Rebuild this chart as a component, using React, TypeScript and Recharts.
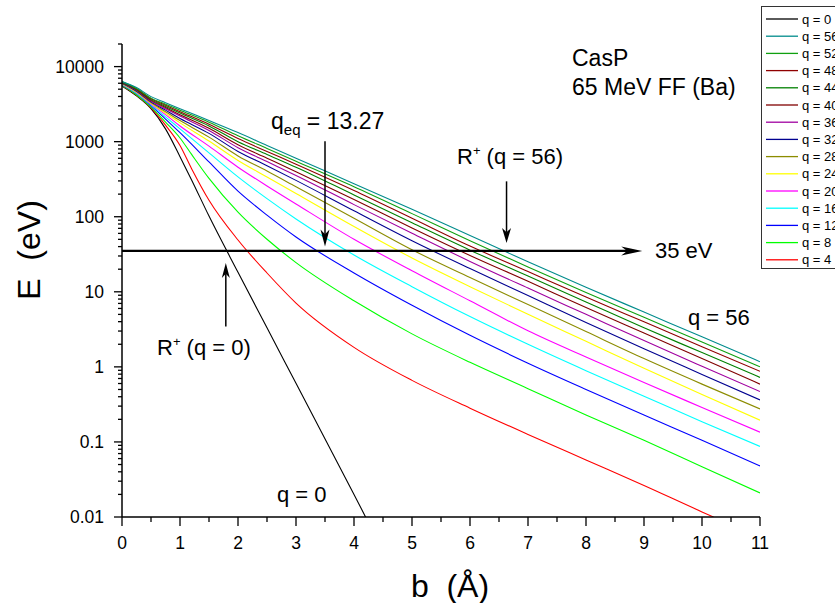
import React from 'react';
import { LineChart, Line, XAxis, YAxis, ReferenceLine, Legend } from 'recharts';

// impact parameter b (Å)
const bValues = [0, 0.25, 0.5, 0.75, 1, 1.2, 1.5, 2, 2.5, 3, 4, 4.2, 5, 6, 7, 8, 9, 10, 10.2, 11];

// energy transfer E (eV) for each charge state q
const E_q0 = [5500, 4070, 2750, 1480, 631, 309, 102, 18.2, 3.31, 0.603, 0.02, 0.01, null, null, null, null, null, null, null, null];
const E_q4 = [5560, 4170, 2820, 1660, 891, 437, 166, 49.0, 17.8, 7.08, 1.82, null, 0.661, 0.282, 0.126, 0.0575, 0.0263, 0.0117, 0.01, null];
const E_q8 = [5620, 4220, 2880, 1820, 1120, 676, 324, 115, 50.1, 24.5, 7.59, null, 2.75, 1.15, 0.513, 0.229, 0.105, 0.0468, null, 0.0209];
const E_q12 = [5690, 4370, 3020, 2000, 1320, null, 537, 219, 105, 53.7, 17.8, null, 6.61, 2.63, 1.12, 0.501, 0.229, 0.105, null, 0.0479];
const E_q16 = [5750, 4420, 3090, 2140, 1480, null, 708, 339, 174, 93.3, 30.9, null, 11.7, 4.68, 2.0, 0.891, 0.407, 0.186, null, 0.0871];
const E_q20 = [5820, 4500, 3160, 2290, 1620, null, 871, 457, 257, 148, 50.1, null, 19.1, 7.59, 3.02, 1.35, 0.617, 0.288, null, 0.135];
const E_q24 = [5890, 4570, 3240, 2400, 1780, null, 1020, 562, 339, 204, 74.1, null, 28.2, 11.7, 5.01, 2.19, 0.955, 0.427, null, 0.195];
const E_q28 = [5960, 4660, 3310, 2510, 1910, null, 1150, 646, 407, 251, 95.5, null, 36.3, 15.5, 6.76, 2.95, 1.29, 0.589, null, 0.275];
const E_q32 = [6030, 4730, 3390, 2630, 2040, null, 1290, 741, 479, 305, 120, null, 47.9, 20.4, 8.91, 3.89, 1.74, 0.794, null, 0.363];
const E_q36 = [6100, 4820, 3470, 2750, 2190, null, 1410, 832, 543, 355, 145, null, 60.3, 25.4, 11.2, 5.01, 2.24, 1.02, null, 0.468];
const E_q40 = [6170, 4900, 3550, 2850, 2290, null, 1510, 912, 603, 398, 170, null, 70.8, 30.5, 13.8, 6.17, 2.82, 1.29, null, 0.589];
const E_q44 = [6170, 4950, 3630, 2950, 2400, null, 1620, 1000, 676, 457, 195, null, 83.2, 35.9, 16.2, 7.33, 3.31, 1.55, null, 0.724];
const E_q48 = [6240, 5050, 3720, 3050, 2510, null, 1700, 1100, 741, 501, 224, null, 95.5, 40.7, 18.6, 8.51, 3.98, 1.86, null, 0.871];
const E_q52 = [6310, 5130, 3800, 3160, 2630, null, 1820, 1200, 813, 550, 251, null, 110, 47.9, 21.4, 9.77, 4.57, 2.14, null, 1.0];
const E_q56 = [6310, 5250, 3980, 3310, 2750, null, 1910, 1320, 891, 603, 275, null, 126, 56.2, 25.1, 11.5, 5.37, 2.51, null, 1.17];

const qLevels = [0, 4, 8, 12, 16, 20, 24, 28, 32, 36, 40, 44, 48, 52, 56];
const seriesValues = [E_q0, E_q4, E_q8, E_q12, E_q16, E_q20, E_q24, E_q28, E_q32, E_q36, E_q40, E_q44, E_q48, E_q52, E_q56];
const seriesColors = ['#000000', '#ff0000', '#00ff00', '#0000ff', '#00ffff', '#ff00ff', '#ffff00', '#8c8c00', '#000090', '#a000a0', '#800000', '#008000', '#900000', '#10a010', '#008c8c'];
const legendOrder = [0, 56, 52, 48, 44, 40, 36, 32, 28, 24, 20, 16, 12, 8, 4];

// axis ticks
const xTicks = [0, 0.5, 1, 1.5, 2, 2.5, 3, 3.5, 4, 4.5, 5, 5.5, 6, 6.5, 7, 7.5, 8, 8.5, 9, 9.5, 10, 10.5, 11];
const yMajorTicks = [0.01, 0.1, 1, 10, 100, 1000, 10000];
const yMinorMultipliers = [2, 3, 4, 5, 6, 7, 8, 9];
const yDomain = [0.01, 20000];

// annotation anchors (data coordinates)
const thresholdE = 35;
const thresholdEnd = 8.97;
const qeqArrow = [{ x: 3.5, y: 1010 }, { x: 3.5, y: 40.2 }];
const r56Arrow = [{ x: 6.63, y: 296 }, { x: 6.63, y: 44.6 }];
const r0Arrow = [{ x: 1.79, y: 3.44 }, { x: 1.79, y: 24.2 }];

const FONT = "'Liberation Sans', Arial, Helvetica, sans-serif";

const yTicks: number[] = [];
yMajorTicks.forEach((m) => {
  yTicks.push(m);
  if (m < 10000) yMinorMultipliers.forEach((k) => yTicks.push(+(m * k).toPrecision(6)));
});
yTicks.push(20000);

const rows = bValues.map((b, i) => {
  const r: Record<string, number | null> = { b };
  qLevels.forEach((q, j) => {
    r['q' + q] = seriesValues[j][i];
  });
  return r;
});

const isMajorLog = (v: number) => {
  const l = Math.log10(v);
  return Math.abs(l - Math.round(l)) < 1e-6;
};

const YTick = (props: any) => {
  const { x, y, payload } = props;
  const v = payload.value;
  const major = isMajorLog(v);
  return (
    <g>
      <line x1={x} y1={y} x2={x - (major ? 8 : 4)} y2={y} stroke="#000" strokeWidth={1.3} />
      {major && (
        <text x={x - 18} y={y} dy={6} textAnchor="end" fontSize={17.5} fontFamily={FONT} fill="#000">
          {String(v)}
        </text>
      )}
    </g>
  );
};

const XTick = (props: any) => {
  const { x, y, payload } = props;
  const v = payload.value;
  const major = Math.abs(v - Math.round(v)) < 1e-6;
  return (
    <g>
      <line x1={x} y1={y} x2={x} y2={y + (major ? 9 : 5)} stroke="#000" strokeWidth={1.3} />
      {major && (
        <text x={x} y={y + 32} textAnchor="middle" fontSize={17.5} fontFamily={FONT} fill="#000">
          {String(v)}
        </text>
      )}
    </g>
  );
};

const arrowShape = (headLen: number, headHalf: number, width: number) => (props: any) => {
  const { x1, y1, x2, y2 } = props;
  const dx = x2 - x1;
  const dy = y2 - y1;
  const L = Math.hypot(dx, dy) || 1;
  const ux = dx / L;
  const uy = dy / L;
  const px = -uy;
  const py = ux;
  const bx = x2 - ux * headLen;
  const by = y2 - uy * headLen;
  const nx = x2 - ux * headLen * 0.72;
  const ny = y2 - uy * headLen * 0.72;
  return (
    <g>
      <line x1={x1} y1={y1} x2={nx} y2={ny} stroke="#000" strokeWidth={width} />
      <polygon
        points={`${x2},${y2} ${bx + px * headHalf},${by + py * headHalf} ${nx},${ny} ${bx - px * headHalf},${by - py * headHalf}`}
        fill="#000"
      />
    </g>
  );
};

const LegendBox = () => (
  <svg width={110} height={263} style={{ display: 'block' }}>
    <rect x={0.5} y={0.5} width={109} height={262} fill="#fff" stroke="#333" strokeWidth={1} />
    {legendOrder.map((q, i) => {
      const j = qLevels.indexOf(q);
      const cy = 13 + 17.2 * i;
      return (
        <g key={q}>
          <line x1={5} y1={cy} x2={37} y2={cy} stroke={seriesColors[j]} strokeWidth={1.3} />
          <text x={41} y={cy} dy={4.5} fontSize={13} fontFamily={FONT} fill="#000">
            {'q = ' + q}
          </text>
        </g>
      );
    })}
  </svg>
);

const Annotations = () => (
  <svg
    width={835}
    height={603}
    style={{ position: 'absolute', left: 0, top: 0, pointerEvents: 'none' }}
    fontFamily={FONT}
    fill="#000"
  >
    <text x={572} y={66} fontSize={23}>CasP</text>
    <text x={572} y={95} fontSize={23}>65 MeV FF (Ba)</text>
    <text x={271} y={129} fontSize={23}>
      q<tspan fontSize={15} dy={6}>eq</tspan>
      <tspan dy={-6}> = 13.27</tspan>
    </text>
    <text x={457} y={164} fontSize={22}>
      R<tspan fontSize={13} dy={-9}>+</tspan>
      <tspan dy={9}> (q = 56)</tspan>
    </text>
    <text x={655} y={258} fontSize={22}>35 eV</text>
    <text x={688} y={325} fontSize={22}>q = 56</text>
    <text x={157} y={355} fontSize={22}>
      R<tspan fontSize={13} dy={-9}>+</tspan>
      <tspan dy={9}> (q = 0)</tspan>
    </text>
    <text x={277} y={502} fontSize={22}>q = 0</text>
    <text x={450} y={597} fontSize={32} textAnchor="middle" style={{ whiteSpace: 'pre' }}>
      {'b  (Å)'}
    </text>
    <text
      x={0}
      y={0}
      fontSize={32}
      textAnchor="middle"
      transform="translate(40,250) rotate(-90)"
      style={{ whiteSpace: 'pre' }}
    >
      {'E  (eV)'}
    </text>
  </svg>
);

export default function App() {
  return (
    <div style={{ position: 'absolute', left: 0, top: 0, width: 835, height: 603, overflow: 'hidden', background: '#fff' }}>
      <LineChart width={835} height={603} data={rows} margin={{ top: 44, right: 75, bottom: 0, left: 0 }}>
        <XAxis
          dataKey="b"
          type="number"
          domain={[0, 11]}
          ticks={xTicks}
          interval={0}
          height={86}
          tickSize={0}
          tickMargin={0}
          tickLine={false}
          tick={<XTick />}
          axisLine={{ stroke: '#000', strokeWidth: 1.5 }}
          allowDataOverflow
        />
        <YAxis
          type="number"
          scale="log"
          domain={yDomain}
          ticks={yTicks}
          interval={0}
          width={122}
          tickSize={0}
          tickMargin={0}
          tickLine={false}
          tick={<YTick />}
          axisLine={{ stroke: '#000', strokeWidth: 1.5 }}
          allowDataOverflow
        />
        {qLevels.map((q, j) => (
          <Line
            key={q}
            dataKey={'q' + q}
            name={'q = ' + q}
            type="monotone"
            stroke={seriesColors[j]}
            strokeWidth={1.1}
            dot={false}
            activeDot={false}
            connectNulls
            isAnimationActive={false}
          />
        ))}
        <ReferenceLine
          segment={[{ x: 0, y: thresholdE }, { x: thresholdEnd, y: thresholdE }]}
          shape={arrowShape(21, 4.5, 2.2)}
        />
        <ReferenceLine segment={qeqArrow} shape={arrowShape(17, 4.5, 1.5)} />
        <ReferenceLine segment={r56Arrow} shape={arrowShape(15, 4.5, 1.5)} />
        <ReferenceLine segment={r0Arrow} shape={arrowShape(15, 4, 1.5)} />
        <Legend
          layout="vertical"
          align="center"
          verticalAlign="middle"
          wrapperStyle={{ left: 761, top: 6, width: 110, height: 263 }}
          content={() => <LegendBox />}
        />
      </LineChart>
      <Annotations />
    </div>
  );
}
